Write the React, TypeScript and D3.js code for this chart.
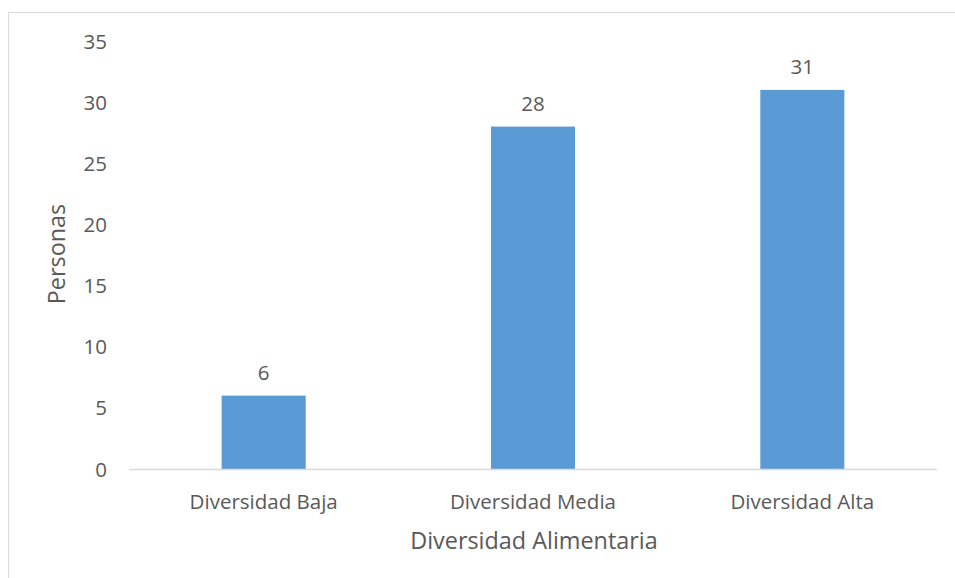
import React from "react";
import * as d3 from "d3";

const categories = ["Diversidad Baja", "Diversidad Media", "Diversidad Alta"];
const values = [6, 28, 31];
const yTicks = [0, 5, 10, 15, 20, 25, 30, 35];
const xTitle = "Diversidad Alimentaria";
const yTitle = "Personas";

export default function App() {
  const W = 955, H = 578;
  const left = 129, right = 937, top = 41, bottom = 469;
  const x = d3.scaleBand<string>().domain(categories).range([left, right]).padding(0);
  const y = d3.scaleLinear().domain([0, 35]).range([bottom, top]);
  const barW = x.bandwidth() * 0.312;
  const font = "'Open Sans', sans-serif";
  const tc = "#595959";
  const fs = 20.5;
  return (
    <svg width={W} height={H} style={{ position: "absolute", left: 0, top: 0 }}>
      <rect x={8.5} y={12.5} width={W} height={H} fill="#fff" stroke="#d9d9d9" />
      {values.map((v, i) => {
        const cx = x(categories[i])! + x.bandwidth() / 2;
        return (
          <g key={i}>
            <rect x={cx - barW / 2} y={y(v)} width={barW} height={bottom - y(v)} fill="#5B9BD5" />
            <text x={cx} y={y(v) - 16} textAnchor="middle" fontFamily={font} fontSize={fs} fill={tc}>{v}</text>
            <text x={cx} y={bottom + 40} textAnchor="middle" fontFamily={font} fontSize={fs} fill={tc}>{categories[i]}</text>
          </g>
        );
      })}
      {yTicks.map((t) => (
        <text key={t} x={107} y={y(t) + 7.5} textAnchor="end" fontFamily={font} fontSize={fs} fill={tc}>{t}</text>
      ))}
      <line x1={left} x2={right} y1={bottom + 0.5} y2={bottom + 0.5} stroke="#d9d9d9" strokeWidth={1.5} />
      <text x={534} y={549} textAnchor="middle" fontFamily={font} fontSize={23.4} fill={tc}>{xTitle}</text>
      <text transform={`translate(65,254) rotate(-90)`} textAnchor="middle" fontFamily={font} fontSize={23.4} fill={tc}>{yTitle}</text>
    </svg>
  );
}
